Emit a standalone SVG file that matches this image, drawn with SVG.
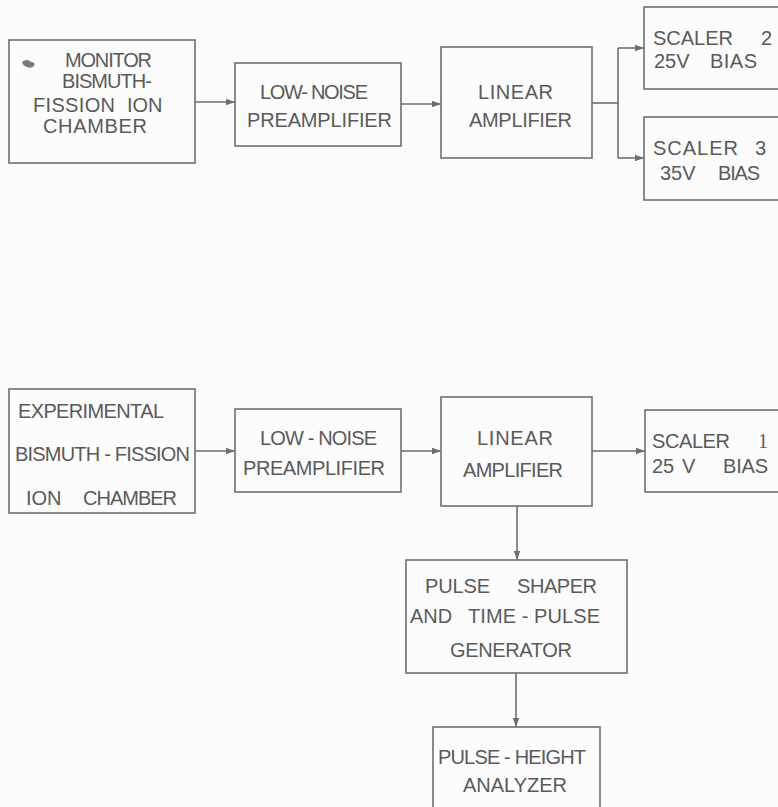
<svg xmlns="http://www.w3.org/2000/svg" width="778" height="807" viewBox="0 0 778 807">
<defs>
<style>
.box{fill:none;stroke:#6e6e6e;stroke-width:1.6}
.ln{fill:none;stroke:#6e6e6e;stroke-width:1.6}
text{font-family:"Liberation Sans","DejaVu Sans",sans-serif;font-size:20px;fill:#5a5a5a}
</style>
<marker id="ah" markerWidth="10" markerHeight="8" refX="9" refY="4" orient="auto" markerUnits="userSpaceOnUse">
<path d="M0,0.8 L9,4 L0,7.2 Z" fill="#6e6e6e"/>
</marker>
</defs>
<rect width="778" height="807" fill="#fcfcfc"/>

<g id="connectors">
<line class="ln" x1="195" y1="102" x2="235" y2="102" marker-end="url(#ah)"/>
<line class="ln" x1="401" y1="104" x2="441" y2="104" marker-end="url(#ah)"/>
<polyline class="ln" points="592,103 618,103"/>
<line class="ln" x1="618" y1="48" x2="618" y2="158"/>
<line class="ln" x1="618" y1="48" x2="644" y2="48" marker-end="url(#ah)"/>
<line class="ln" x1="618" y1="158" x2="644" y2="158" marker-end="url(#ah)"/>
<line class="ln" x1="195" y1="451" x2="235" y2="451" marker-end="url(#ah)"/>
<line class="ln" x1="401" y1="451" x2="441" y2="451" marker-end="url(#ah)"/>
<line class="ln" x1="592" y1="451" x2="645" y2="451" marker-end="url(#ah)"/>
<line class="ln" x1="517" y1="506" x2="517" y2="560" marker-end="url(#ah)"/>
<line class="ln" x1="516" y1="673" x2="516" y2="727" marker-end="url(#ah)"/>
</g>

<g id="monitor">
<rect class="box" x="9" y="40" width="186" height="123"/>
<path d="M22,62 Q27,58 31,62 Q36,62 34,66 Q31,69 27,67 Q23,66 22,62 Z" fill="#7a7a7a"/>
<text x="65" y="67" textLength="87" lengthAdjust="spacing">MONITOR</text>
<text x="62" y="88" textLength="90" lengthAdjust="spacing">BISMUTH-</text>
<text y="112"><tspan x="33" textLength="82" lengthAdjust="spacing">FISSION</tspan><tspan x="127">ION</tspan></text>
<text x="43" y="133" textLength="104" lengthAdjust="spacing">CHAMBER</text>
</g>

<g id="preamp1">
<rect class="box" x="235" y="63" width="166" height="83"/>
<text x="260" y="99" textLength="108" lengthAdjust="spacing">LOW- NOISE</text>
<text x="247" y="127" textLength="145" lengthAdjust="spacing">PREAMPLIFIER</text>
</g>

<g id="linear1">
<rect class="box" x="441" y="47" width="151" height="111"/>
<text x="478" y="99" textLength="75" lengthAdjust="spacing">LINEAR</text>
<text x="469" y="127" textLength="103" lengthAdjust="spacing">AMPLIFIER</text>
</g>

<g id="scaler2">
<rect class="box" x="644" y="7" width="140" height="82"/>
<text y="45"><tspan x="653" textLength="80" lengthAdjust="spacing">SCALER</tspan><tspan x="761">2</tspan></text>
<text y="68"><tspan x="654">25V</tspan><tspan x="710" textLength="47" lengthAdjust="spacing">BIAS</tspan></text>
</g>

<g id="scaler3">
<rect class="box" x="644" y="117" width="140" height="83"/>
<text y="155"><tspan x="653" textLength="85" lengthAdjust="spacing">SCALER</tspan><tspan x="755">3</tspan></text>
<text y="180"><tspan x="660">35V</tspan><tspan x="718" textLength="42" lengthAdjust="spacing">BIAS</tspan></text>
</g>

<g id="experimental">
<rect class="box" x="9" y="389" width="186" height="124"/>
<text x="18" y="418" textLength="146" lengthAdjust="spacing">EXPERIMENTAL</text>
<text x="15" y="461" textLength="175" lengthAdjust="spacing">BISMUTH - FISSION</text>
<text y="505"><tspan x="26">ION</tspan><tspan x="83" textLength="94" lengthAdjust="spacing">CHAMBER</tspan></text>
</g>

<g id="preamp2">
<rect class="box" x="235" y="409" width="166" height="83"/>
<text x="260" y="445" textLength="117" lengthAdjust="spacing">LOW - NOISE</text>
<text x="243" y="475" textLength="142" lengthAdjust="spacing">PREAMPLIFIER</text>
</g>

<g id="linear2">
<rect class="box" x="441" y="397" width="151" height="109"/>
<text x="477" y="445" textLength="76" lengthAdjust="spacing">LINEAR</text>
<text x="463" y="477" textLength="100" lengthAdjust="spacing">AMPLIFIER</text>
</g>

<g id="scaler1">
<rect class="box" x="645" y="410" width="140" height="82"/>
<text y="448"><tspan x="652" textLength="78" lengthAdjust="spacing">SCALER</tspan><tspan x="758" font-family="Liberation Serif, serif">1</tspan></text>
<text y="473"><tspan x="652">25</tspan><tspan x="682">V</tspan><tspan x="723" textLength="45" lengthAdjust="spacing">BIAS</tspan></text>
</g>

<g id="pulse-shaper">
<rect class="box" x="406" y="560" width="221" height="113"/>
<text y="593"><tspan x="425" textLength="65" lengthAdjust="spacing">PULSE</tspan><tspan x="517" textLength="80" lengthAdjust="spacing">SHAPER</tspan></text>
<text y="623"><tspan x="410">AND</tspan><tspan x="468" textLength="132" lengthAdjust="spacing">TIME - PULSE</tspan></text>
<text x="450" y="657" textLength="122" lengthAdjust="spacing">GENERATOR</text>
</g>

<g id="pulse-height-analyzer">
<rect class="box" x="433" y="727" width="167" height="100"/>
<text x="438" y="764" textLength="148" lengthAdjust="spacing">PULSE - HEIGHT</text>
<text x="463" y="792" textLength="104" lengthAdjust="spacing">ANALYZER</text>
</g>
</svg>
